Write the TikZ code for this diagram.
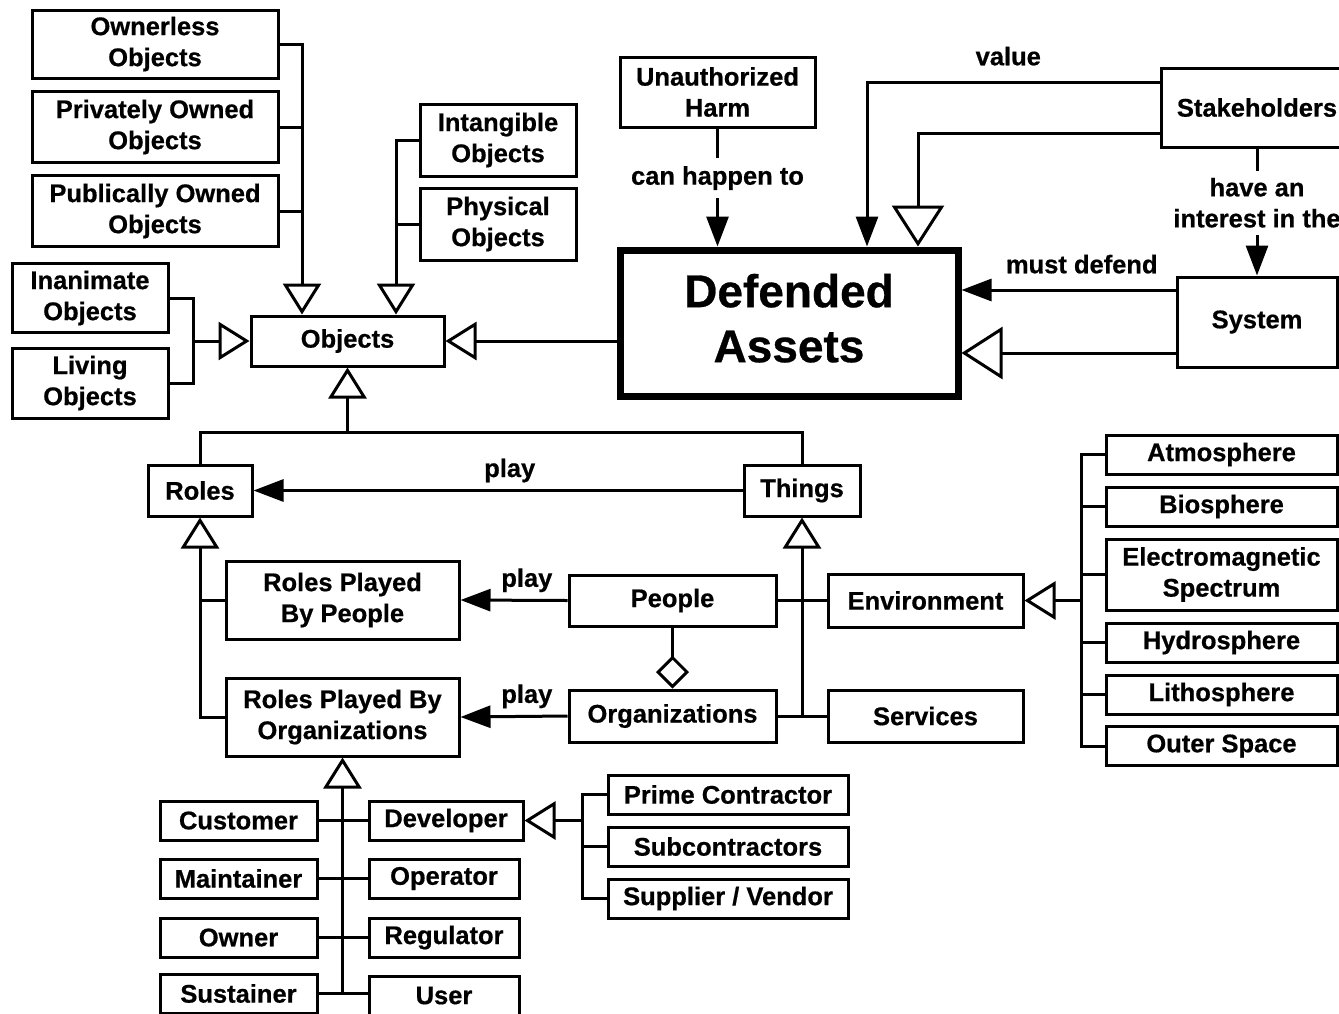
\documentclass[tikz,border=0pt]{standalone}
\usepackage{fontspec}
\setmainfont{Liberation Sans}[BoldFeatures={FakeBold=0.6}]
\usetikzlibrary{arrows.meta}
\begin{document}
\begin{tikzpicture}[x=1pt,y=-1pt,
  box/.style={draw, line width=3pt, fill=white, inner sep=0pt, align=center,
    font=\bfseries\fontsize{25.5}{31}\selectfont},
  ln/.style={line width=3pt},
  gen/.style={ln, -{Triangle[open, length=31pt, width=38pt]}},
  genbig/.style={ln, -{Triangle[open, length=41pt, width=52pt]}},
  assoc/.style={ln, -{Triangle[length=30pt, width=22pt]}},
  agg/.style={ln, -{Diamond[open, length=33pt, width=33pt]}},
  lbl/.style={font=\bfseries\fontsize{25.5}{31}\selectfont, inner sep=0pt, align=center},
]
\useasboundingbox (0,0) rectangle (1339,1013);
\clip (0,0) rectangle (1339,1013);

% ---- object taxonomy ----
\node[box, minimum width=246pt, minimum height=68pt] (own) at (155,44) {Ownerless\\Objects};
\node[box, minimum width=246pt, minimum height=71pt] (priv) at (155,127) {Privately Owned\\Objects};
\node[box, minimum width=246pt, minimum height=71pt] (pub) at (155,211) {Publically Owned\\Objects};
\node[box, minimum width=156pt, minimum height=69pt] (inan) at (90,298) {Inanimate\\Objects};
\node[box, minimum width=156pt, minimum height=70pt] (liv) at (90,383) {Living\\Objects};
\node[box, minimum width=193pt, minimum height=50pt] (obj) at (347.5,341) {Objects};
\node[box, minimum width=156pt, minimum height=72pt] (intang) at (498,140) {Intangible\\Objects};
\node[box, minimum width=156pt, minimum height=72pt] (phys) at (498,224) {Physical\\Objects};

% ---- assets and stakeholders ----
\node[box, minimum width=195pt, minimum height=70pt] (harm) at (717.5,92) {Unauthorized\\Harm};
\node[box, line width=7pt, minimum width=338pt, minimum height=146pt, text depth=10pt,
  font=\bfseries\fontsize{46}{55}\selectfont] (da) at (789,323) {Defended\\Assets};
\node[box, minimum width=192pt, minimum height=79pt] (stake) at (1257,107.5) {Stakeholders};
\node[box, minimum width=160pt, minimum height=90pt] (sys) at (1257,322) {System};

% ---- roles and things ----
\node[box, minimum width=104pt, minimum height=51pt] (roles) at (200,490.5) {Roles};
\node[box, minimum width=116pt, minimum height=51pt] (things) at (802,490.5) {Things};
\node[box, minimum width=233pt, minimum height=78pt] (rpp) at (342.5,600) {Roles Played\\By People};
\node[box, minimum width=233pt, minimum height=78pt] (rpo) at (342.5,717) {Roles Played By\\Organizations};
\node[box, minimum width=207pt, minimum height=51pt] (people) at (672.5,600.5) {People};
\node[box, minimum width=207pt, minimum height=52pt] (orgs) at (672.5,716) {Organizations};
\node[box, minimum width=195pt, minimum height=53pt] (env) at (925.5,600.5) {Environment};
\node[box, minimum width=195pt, minimum height=52pt] (serv) at (925.5,716) {Services};

% ---- environment parts ----
\node[box, minimum width=231pt, minimum height=39pt] (atm) at (1221.5,454.5) {Atmosphere};
\node[box, minimum width=231pt, minimum height=39pt] (bio) at (1221.5,506.5) {Biosphere};
\node[box, minimum width=231pt, minimum height=71pt] (ems) at (1221.5,574.5) {Electromagnetic\\Spectrum};
\node[box, minimum width=231pt, minimum height=39pt] (hyd) at (1221.5,642.5) {Hydrosphere};
\node[box, minimum width=231pt, minimum height=39pt] (lith) at (1221.5,694.5) {Lithosphere};
\node[box, minimum width=231pt, minimum height=39pt] (outer) at (1221.5,746) {Outer Space};

% ---- organizational roles ----
\node[box, minimum width=157pt, minimum height=39pt] (cust) at (238.5,820.5) {Customer};
\node[box, minimum width=157pt, minimum height=39pt] (maint) at (238.5,878.5) {Maintainer};
\node[box, minimum width=157pt, minimum height=39pt] (owner) at (238.5,937.5) {Owner};
\node[box, minimum width=157pt, minimum height=39pt] (sust) at (238.5,993.5) {Sustainer};
\node[box, minimum width=154pt, minimum height=39pt] (dev) at (446,820.5) {Developer};
\node[box, minimum width=150pt, minimum height=39pt] (oper) at (444,878.5) {Operator};
\node[box, minimum width=150pt, minimum height=39pt] (reg) at (444,937.5) {Regulator};
\node[box, minimum width=150pt, minimum height=39pt] (user) at (444,995.5) {User};
\node[box, minimum width=240pt, minimum height=39pt] (prime) at (728,794.5) {Prime Contractor};
\node[box, minimum width=240pt, minimum height=39pt] (subc) at (728,846.5) {Subcontractors};
\node[box, minimum width=240pt, minimum height=39pt] (supp) at (728,898.5) {Supplier / Vendor};

% ---- bus positions ----
\coordinate (abus) at (302,0);
\coordinate (bbus) at (396,0);
\coordinate (cbus) at (193,0);
\coordinate (tbus) at (0,432);
\coordinate (ebus) at (1081,0);
\coordinate (dbus) at (582,0);
\coordinate (vx) at (867,0);
\coordinate (ix) at (918,0);

% ---- generalizations into Objects ----
\draw[gen] (own.east) -| (obj.north -| abus);
\draw[ln] (priv.east) -- (priv.east -| abus);
\draw[ln] (pub.east) -- (pub.east -| abus);
\draw[gen] (intang.west) -| (obj.north -| bbus);
\draw[ln] (phys.west) -- (phys.west -| bbus);
\draw[gen] (inan.east) -| (obj.west -| cbus) -- (obj.west);
\draw[ln] (liv.east) -| (obj.west -| cbus);
\draw[gen] (da.west |- obj.east) -- (obj.east);
\draw[ln] (roles.north) |- (things.north |- tbus) -- (things.north);
\draw[gen] (obj.south |- tbus) -- (obj.south);

% ---- associations around Defended Assets ----
\draw[assoc] (harm.south) -- node[lbl, pos=0.42, fill=white, inner ysep=8pt, inner xsep=2pt] {can happen to} (harm.south |- da.north);
\draw[assoc] ([yshift=25.5pt]stake.west) -- node[lbl, pos=0.517, above=15pt] {value} ([yshift=25.5pt]stake.west -| vx) -- (da.north -| vx);
\draw[genbig] ([yshift=-25.5pt]stake.west) -| (da.north -| ix);
\draw[assoc] (stake.south -| sys.north) -- node[lbl, pos=0.427, fill=white, inner ysep=7pt, inner xsep=0pt] {have an\\interest in the} (sys.north);
\draw[assoc] ([yshift=32pt]sys.west) -- node[lbl, pos=0.438, above=15pt] {must defend} ([yshift=32pt]sys.west -| da.east);
\draw[genbig] ([yshift=-31pt]sys.west) -- ([yshift=-31pt]sys.west -| da.east);

% ---- roles and things ----
\draw[assoc] (things.west) -- node[lbl, pos=0.476, above=12pt, text depth=0pt] {play} (roles.east);
\draw[assoc] (people.west) -- node[lbl, pos=0.38, above=12pt, text depth=0pt] {play} (rpp.east);
\draw[assoc] (orgs.west) -- node[lbl, pos=0.38, above=12pt, text depth=0pt] {play} (rpo.east);
\draw[gen] (rpo.west) -| (roles.south);
\draw[ln] (rpp.west) -- (rpp.west -| roles.south);
\draw[gen] (orgs.east) -| (things.south);
\draw[ln] (people.east) -- (env.west);
\draw[ln] (orgs.east) -- (serv.west);
\draw[agg] (people.south) -- (orgs.north);

% ---- environment parts ----
\draw[gen] (atm.west) -| (env.east -| ebus) -- (env.east);
\draw[ln] (outer.west) -| (env.east -| ebus);
\foreach \n in {bio,ems,hyd,lith} \draw[ln] (\n.west) -- (\n.west -| ebus);

% ---- organizational roles ----
\draw[gen] (sust.east -| rpo.south) -- (rpo.south);
\draw[ln] (cust.east) -- (dev.west);
\draw[ln] (maint.east) -- (oper.west);
\draw[ln] (owner.east) -- (reg.west);
\draw[ln] (sust.east) -- (sust.east -| user.west);
\draw[gen] (prime.west) -| (dev.east -| dbus) -- (dev.east);
\draw[ln] (supp.west) -| (dev.east -| dbus);
\draw[ln] (subc.west) -- (subc.west -| dbus);
\end{tikzpicture}
\end{document}
